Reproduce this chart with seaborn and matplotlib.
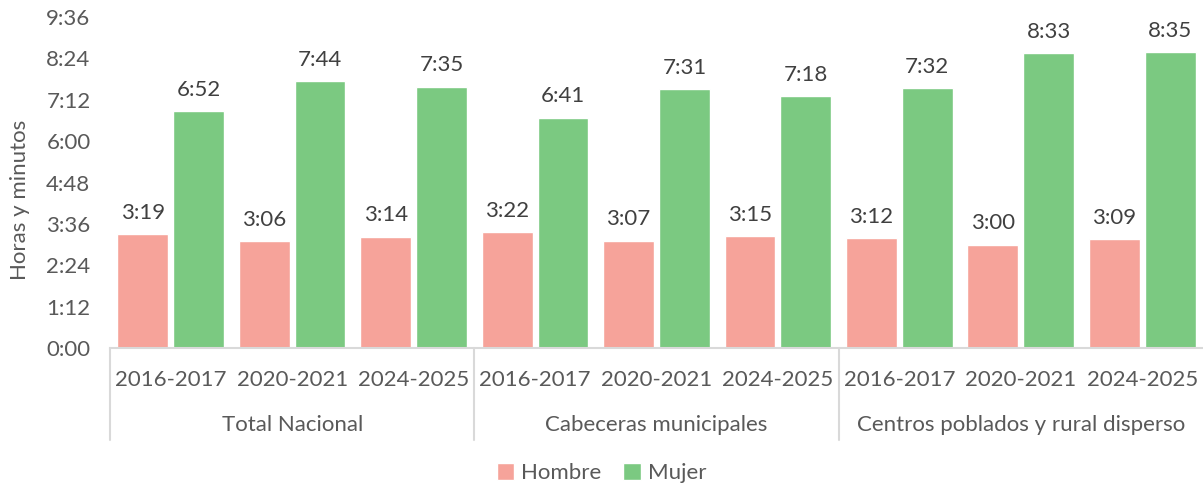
import pandas as pd
import matplotlib.pyplot as plt
import seaborn as sns
from matplotlib.ticker import FuncFormatter, MultipleLocator

# Datos (horas:minutos)
grupos = ["Total Nacional", "Cabeceras municipales", "Centros poblados y rural disperso"]
periodos = ["2016-2017", "2020-2021", "2024-2025"]
hombre = ["3:19", "3:06", "3:14", "3:22", "3:07", "3:15", "3:12", "3:00", "3:09"]
mujer = ["6:52", "7:44", "7:35", "6:41", "7:31", "7:18", "7:32", "8:33", "8:35"]
colores = {"Hombre": "#F6A39A", "Mujer": "#7BC981"}


def a_minutos(txt):
    h, m = txt.split(":")
    return int(h) * 60 + int(m)


claves = [f"{g}|{p}" for g in grupos for p in periodos]
df = pd.DataFrame({
    "clave": claves * 2,
    "Sexo": ["Hombre"] * len(claves) + ["Mujer"] * len(claves),
    "minutos": [a_minutos(v) for v in hombre + mujer],
    "texto": hombre + mujer,
})

sns.set_theme(style="white")
plt.rcParams["font.family"] = ["Lato", "DejaVu Sans"]
gris = "#595959"
fs = 16

fig = plt.figure(figsize=(12.03, 4.87), dpi=100)
ax = fig.add_axes([0.0914, 0.2854, 0.9086, 0.6797])

sns.barplot(
    data=df,
    x="clave",
    y="minutos",
    hue="Sexo",
    order=claves,
    hue_order=["Hombre", "Mujer"],
    palette=colores,
    saturation=1,
    width=0.92,
    gap=0.09,
    ax=ax,
)

# Etiquetas de datos
for cont, sexo in zip(ax.containers, ["Hombre", "Mujer"]):
    etiquetas = df.loc[df["Sexo"] == sexo, "texto"].tolist()
    ax.bar_label(cont, labels=etiquetas, padding=8, fontsize=fs, color="#404040")

ax.set_xlim(-0.5, 8.5)
ax.set_ylim(0, 576)
ax.yaxis.set_major_locator(MultipleLocator(72))
ax.yaxis.set_major_formatter(FuncFormatter(lambda v, p: f"{int(v) // 60}:{int(v) % 60:02d}"))
ax.tick_params(axis="y", labelsize=fs, labelcolor=gris, pad=14, length=0)
ax.set_ylabel("")
ax.set_xlabel("")
ax.set_xticks([])

for lado in ["top", "right", "left"]:
    ax.spines[lado].set_visible(False)
ax.spines["bottom"].set_color("#D9D9D9")
ax.spines["bottom"].set_linewidth(1.5)

# Eje de categorías en dos niveles
trans = ax.get_xaxis_transform()
for i, clave in enumerate(claves):
    ax.text(i, -0.097, clave.split("|")[1], transform=trans, ha="center", va="center",
            fontsize=fs, color=gris)
for j, g in enumerate(grupos):
    ax.text(j * 3 + 1, -0.233, g, transform=trans, ha="center", va="center",
            fontsize=fs, color=gris)
for x in [-0.5, 2.5, 5.5]:
    ax.plot([x, x], [0, -0.278], transform=trans, color="#D9D9D9", lw=1.5, clip_on=False)

fig.text(0.017, 0.59, "Horas y minutos", rotation=90, ha="center", va="center",
         fontsize=fs, color=gris)

handles, labels = ax.get_legend_handles_labels()
ax.get_legend().remove()
fig.legend(handles, labels, loc="center", bbox_to_anchor=(0.5, 0.029), ncol=2,
           frameon=False, fontsize=fs, labelcolor=gris, handlelength=0.8,
           handleheight=0.8, handletextpad=0.3, columnspacing=1.0)

plt.savefig("out.png", dpi=100)
